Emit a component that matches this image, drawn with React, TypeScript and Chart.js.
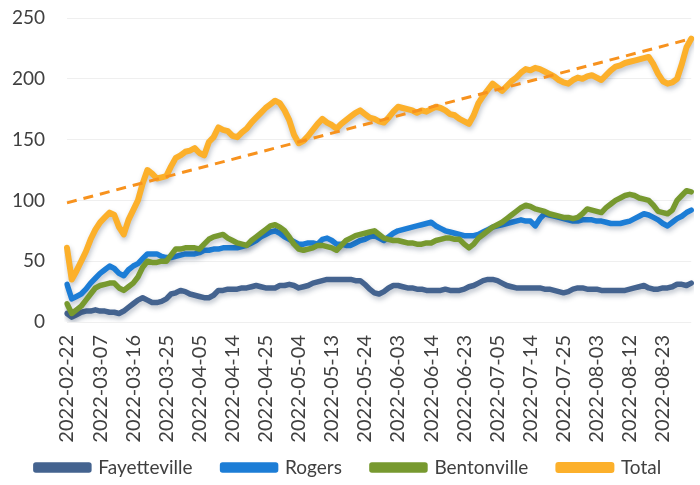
import { useEffect, useRef } from "react";
import { Chart, registerables } from "chart.js";

Chart.register(...registerables);

const dates = [
  "2022-02-22","2022-02-23","2022-02-24","2022-02-25","2022-02-28","2022-03-01","2022-03-02",
  "2022-03-07","2022-03-08","2022-03-09","2022-03-10","2022-03-11","2022-03-14","2022-03-15",
  "2022-03-16","2022-03-17","2022-03-18","2022-03-21","2022-03-22","2022-03-23","2022-03-24",
  "2022-03-25","2022-03-28","2022-03-29","2022-03-30","2022-03-31","2022-04-01","2022-04-04",
  "2022-04-05","2022-04-06","2022-04-07","2022-04-08","2022-04-11","2022-04-12","2022-04-13",
  "2022-04-14","2022-04-15","2022-04-18","2022-04-19","2022-04-20","2022-04-21","2022-04-22",
  "2022-04-25","2022-04-26","2022-04-27","2022-04-28","2022-04-29","2022-05-02","2022-05-03",
  "2022-05-04","2022-05-05","2022-05-06","2022-05-09","2022-05-10","2022-05-11","2022-05-12",
  "2022-05-13","2022-05-16","2022-05-17","2022-05-18","2022-05-19","2022-05-20","2022-05-23",
  "2022-05-24","2022-05-25","2022-05-26","2022-05-27","2022-05-31","2022-06-01","2022-06-02",
  "2022-06-03","2022-06-06","2022-06-07","2022-06-08","2022-06-09","2022-06-10","2022-06-13",
  "2022-06-14","2022-06-15","2022-06-16","2022-06-17","2022-06-20","2022-06-21","2022-06-22",
  "2022-06-23","2022-06-24","2022-06-27","2022-06-28","2022-06-29","2022-06-30","2022-07-01",
  "2022-07-05","2022-07-06","2022-07-07","2022-07-08","2022-07-11","2022-07-12","2022-07-13",
  "2022-07-14","2022-07-15","2022-07-18","2022-07-19","2022-07-20","2022-07-21","2022-07-22",
  "2022-07-25","2022-07-26","2022-07-27","2022-07-28","2022-07-29","2022-08-01","2022-08-02",
  "2022-08-03","2022-08-04","2022-08-05","2022-08-08","2022-08-09","2022-08-10","2022-08-11",
  "2022-08-12","2022-08-15","2022-08-16","2022-08-17","2022-08-18","2022-08-19","2022-08-22",
  "2022-08-23","2022-08-24","2022-08-25","2022-08-26","2022-08-29","2022-08-30","2022-08-31",
];

const tickDates = [
  "2022-02-22","2022-03-07","2022-03-16","2022-03-25","2022-04-05","2022-04-14","2022-04-25",
  "2022-05-04","2022-05-13","2022-05-24","2022-06-03","2022-06-14","2022-06-23","2022-07-05",
  "2022-07-14","2022-07-25","2022-08-03","2022-08-12","2022-08-23",
];

const yTicks = [0, 50, 100, 150, 200, 250];

const fayetteville = [
  7,4,6,8,9,9,10,9,9,8,8,7,9,12,15,18,20,18,16,16,17,19,23,24,26,25,23,22,21,20,
  20,22,26,26,27,27,27,28,28,29,30,29,28,28,28,30,30,31,30,28,29,30,32,33,34,35,35,35,35,35,
  35,34,34,31,27,24,23,25,28,30,30,29,28,28,27,27,26,26,26,26,27,26,26,26,27,29,30,32,34,35,
  35,34,32,30,29,28,28,28,28,28,28,27,27,26,25,24,25,27,28,28,27,27,27,26,26,26,26,26,26,27,
  28,29,30,28,27,27,28,28,29,31,31,30,32,
];

const rogers = [
  31,19,21,23,27,32,36,40,43,46,44,40,38,43,46,48,52,56,56,56,54,53,53,54,55,56,56,56,57,59,
  59,60,60,61,61,61,61,62,63,65,67,70,72,74,75,73,70,68,66,64,64,65,65,64,68,69,67,64,64,63,
  63,65,67,68,70,71,69,67,70,73,75,76,77,78,79,80,81,82,79,77,75,74,73,72,71,71,71,72,74,76,
  78,79,80,81,82,83,84,83,83,79,85,89,88,87,86,85,84,83,83,84,84,84,83,83,82,81,81,81,82,83,
  85,87,89,88,86,84,81,79,82,85,87,90,92,
];

const bentonville = [
  15,7,10,13,18,23,28,30,31,32,32,28,26,29,32,37,45,50,49,49,50,50,55,60,60,61,61,61,60,64,
  68,70,71,72,69,67,65,64,63,67,70,73,76,79,80,78,75,70,64,60,59,60,61,63,63,62,61,59,63,67,
  69,71,72,73,74,75,72,69,68,67,67,66,65,65,64,64,65,65,67,68,69,69,68,68,64,61,64,69,72,75,
  78,80,82,85,88,91,94,96,95,93,92,91,89,88,87,86,86,85,86,89,93,92,91,90,94,97,100,102,104,105,
  104,102,101,100,96,91,90,89,92,100,104,108,107,
];

const total = [
  61,35,42,50,58,68,76,82,86,90,88,78,72,84,92,100,114,125,122,118,119,120,128,135,137,140,141,143,139,137,
  148,152,160,158,157,153,152,156,159,164,168,172,176,179,182,180,174,166,154,147,149,153,158,163,167,164,162,159,163,166,
  169,172,174,171,168,167,165,164,168,173,177,176,175,174,172,174,173,175,177,176,174,171,170,167,165,163,170,180,186,191,
  196,193,190,194,198,201,205,208,207,209,208,206,204,202,199,197,196,199,201,200,202,203,201,199,203,207,210,211,213,214,
  215,216,217,218,212,204,198,196,197,200,212,226,233,
];

const trendStart = 98;
const trendEnd = 233;

const FONT = "Lato, 'Noto Sans', sans-serif";

export default function App() {
  const ref = useRef<HTMLCanvasElement>(null);

  useEffect(() => {
    if (!ref.current) return;
    const trend = dates.map((_, i) =>
      i === 0 ? trendStart : i === dates.length - 1 ? trendEnd : null
    );

    const shadowPlugin = {
      id: "lineShadow",
      beforeDatasetDraw(chart: any, args: any) {
        const c = chart.ctx;
        c.save();
        if (args.meta.label !== "Trend") {
          c.shadowColor = "rgba(40,60,90,0.30)";
          c.shadowBlur = 5;
          c.shadowOffsetX = 1;
          c.shadowOffsetY = 3;
        }
      },
      afterDatasetDraw(chart: any) {
        chart.ctx.restore();
      },
    };

    const lineCommon = {
      pointRadius: 0,
      pointHoverRadius: 0,
      borderWidth: 5.5,
      tension: 0,
      borderJoinStyle: "round" as const,
      borderCapStyle: "round" as const,
      fill: false,
    };

    const chart = new Chart(ref.current, {
      type: "line",
      data: {
        labels: dates,
        datasets: [
          { ...lineCommon, label: "Fayetteville", data: fayetteville, borderColor: "#44638F", backgroundColor: "#44638F", order: 4 },
          { ...lineCommon, label: "Rogers", data: rogers, borderColor: "#1C7DD6", backgroundColor: "#1C7DD6", order: 3 },
          { ...lineCommon, label: "Bentonville", data: bentonville, borderColor: "#77992F", backgroundColor: "#77992F", order: 2 },
          { ...lineCommon, label: "Total", data: total, borderWidth: 6, borderColor: "#FCB02B", backgroundColor: "#FDC45A", order: 1 },
          {
            label: "Trend",
            data: trend,
            borderColor: "#F7921E",
            backgroundColor: "#F7921E",
            borderWidth: 3,
            borderDash: [10, 7],
            pointRadius: 0,
            spanGaps: true,
            fill: false,
            order: 0,
          },
        ],
      },
      options: {
        responsive: false,
        animation: false,
        devicePixelRatio: 1,
        layout: { padding: { top: 18, right: 3, bottom: -2, left: 0 } },
        plugins: {
          tooltip: { enabled: false },
          legend: {
            position: "bottom",
            labels: {
              filter: (item: any) => item.text !== "Trend",
              sort: (a: any, b: any) => a.datasetIndex - b.datasetIndex,
              boxWidth: 53,
              boxHeight: 5,
              padding: 30,
              color: "#404040",
              font: { family: FONT, size: 19 },
            },
          },
        },
        scales: {
          x: {
            type: "category",
            offset: false,
            grid: { display: false, drawTicks: false },
            border: { display: false },
            afterBuildTicks: (scale: any) => {
              scale.ticks = scale.ticks.filter((t: any) => tickDates.includes(dates[t.value]));
            },
            afterFit: (scale: any) => {
              scale.height = 106;
              // let the rotated date labels extend past the axis box (they sit above the legend row)
              scale._computeLabelArea = () => undefined;
            },
            ticks: {
              autoSkip: false,
              minRotation: 90,
              maxRotation: 90,
              padding: 13,
              color: "#404040",
              font: { family: FONT, size: 20 },
            },
          },
          y: {
            min: 0,
            max: 250,
            afterBuildTicks: (scale: any) => {
              scale.ticks = yTicks.map((v) => ({ value: v }));
            },
            afterFit: (scale: any) => {
              scale.width = 67;
            },
            grid: {
              color: "#EFEFEF",
              lineWidth: 1,
              drawTicks: true,
              tickLength: 22,
              tickColor: "rgba(0,0,0,0)",
            },
            border: { display: false },
            ticks: {
              padding: 0,
              color: "#404040",
              font: { family: FONT, size: 19 },
            },
          },
        },
      },
      plugins: [shadowPlugin],
    });

    return () => chart.destroy();
  }, []);

  return (
    <div style={{ position: "fixed", left: 0, top: 0, width: 700, height: 485, background: "#fff" }}>
      <canvas ref={ref} width={700} height={485} style={{ width: 700, height: 485 }} />
    </div>
  );
}
